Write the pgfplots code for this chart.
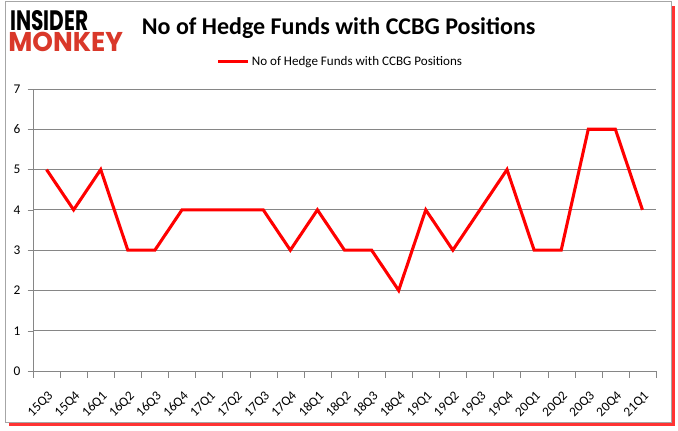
\documentclass[border=0pt]{standalone}
\usepackage{pgfplots}
\pgfplotsset{compat=1.18}
\usepackage{graphicx}
\usepackage{fontspec}
\setmainfont{Carlito}
\newfontfamily\logofont{Poppins}
\definecolor{gridgray}{RGB}{134,134,134}
\definecolor{monkeyred}{RGB}{217,56,42}
\begin{document}
\begin{tikzpicture}
% canvas
\fill[white] (0pt,0pt) rectangle (508.5pt,323.25pt);
% shadow
\fill[red!80] (6.75pt,3.75pt) rectangle (506.25pt,318.75pt);
\fill[white] (3.75pt,6.75pt) rectangle (503.25pt,322.5pt);
\draw[gray!70,line width=0.6pt] (3.75pt,6.75pt) rectangle (503.25pt,322.5pt);
% logo
\node[anchor=south west,inner sep=0] at (7.5pt,300pt) {\resizebox{58.5pt}{15pt}{\logofont\bfseries INSIDER}};
\node[anchor=south west,inner sep=0,text=monkeyred] at (6pt,284.25pt) {\resizebox{86pt}{14.5pt}{\logofont\bfseries MONKEY}};
% title
\node[font=\bfseries\fontsize{18}{21}\selectfont] at (254pt,302pt) {No of Hedge Funds with CCBG Positions};
\begin{axis}[
  at={(24.75pt,45pt)}, anchor=south west,
  scale only axis, width=467.25pt, height=211.5pt,
  xmin=-0.5, xmax=22.5, ymin=0, ymax=7,
  axis line style={gridgray},
  axis x line*=bottom, axis y line*=left,
  ytick={0,...,7},
  ymajorgrids=true,
  major grid style={gridgray,line width=0.6pt},
  tick style={gridgray},
  xtick={0,...,22},
  xticklabels={15Q3,15Q4,16Q1,16Q2,16Q3,16Q4,17Q1,17Q2,17Q3,17Q4,18Q1,18Q2,18Q3,18Q4,19Q1,19Q2,19Q3,19Q4,20Q1,20Q2,20Q3,20Q4,21Q1},
  minor xtick={-0.5,0.5,...,22.5},
  major x tick style={draw=none},
  minor x tick style={draw=gridgray},
  major y tick style={draw=gridgray},
  major tick length=4pt,
  minor tick length=5pt,
  tick align=outside,
  /pgf/number format/assume math mode=true,
  x tick label style={xshift=0.5pt, yshift=-9pt, rotate=45, anchor=north east, font=\fontsize{10}{12}\selectfont, inner sep=1pt},
  y tick label style={font=\fontsize{10}{12}\selectfont, xshift=-2pt},
  legend style={at={(0.494,1.096)}, anchor=center, draw=none, fill=none, font=\fontsize{9.8}{11}\selectfont},
  legend image code/.code={\draw[#1] (0pt,0pt) -- (22pt,0pt);},
  clip=false,
]
\addplot[red, line width=2.3pt, mark=none] coordinates {
(0,5) (1,4) (2,5) (3,3) (4,3) (5,4) (6,4) (7,4) (8,4) (9,3) (10,4) (11,3) (12,3) (13,2) (14,4) (15,3) (16,4) (17,5) (18,3) (19,3) (20,6) (21,6) (22,4)
};
\addlegendentry{No of Hedge Funds with CCBG Positions}
\end{axis}
\end{tikzpicture}
\end{document}
